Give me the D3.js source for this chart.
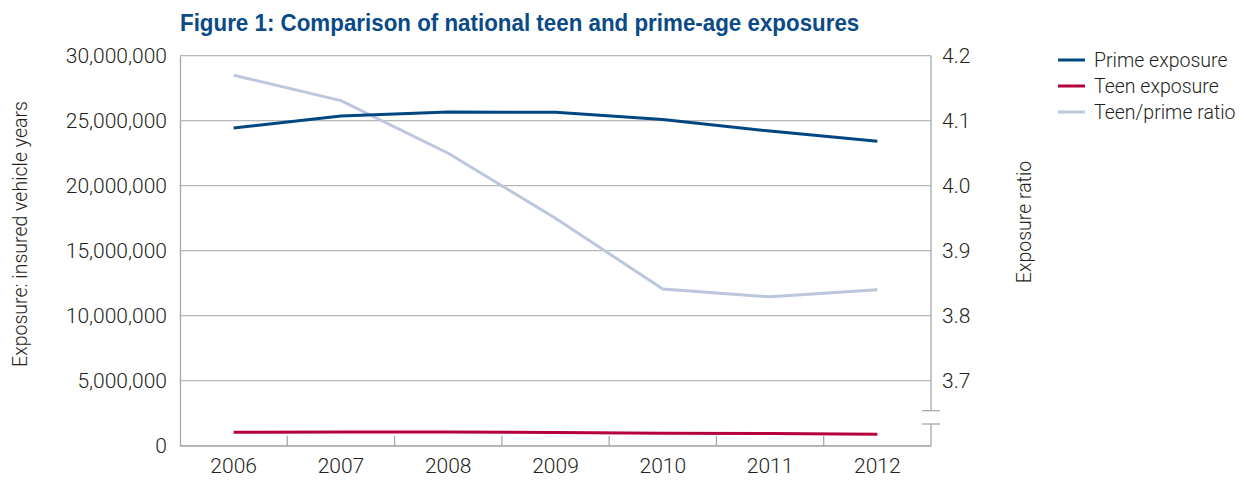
<!DOCTYPE html>
<html>
<head>
<meta charset="utf-8">
<script src="https://cdn.jsdelivr.net/npm/d3@7"></script>
<style>
  html, body { margin: 0; padding: 0; background: #fff; }
  svg { display: block; }
  text { font-family: Roboto, "Liberation Sans", sans-serif; font-weight: 300; fill: #231f20; }
</style>
</head>
<body>
<svg id="chart" width="1244" height="483"></svg>
<script>
// Annual exposures, 2006-2012
const years = ["2006", "2007", "2008", "2009", "2010", "2011", "2012"];
const primeExposure = [24440000, 25360000, 25670000, 25650000, 25100000, 24200000, 23420000];
const teenExposure  = [1030000, 1060000, 1050000, 1010000, 960000, 930000, 890000];
const teenPrimeRatio = [4.170, 4.131, 4.050, 3.950, 3.841, 3.829, 3.840];

const leftTicks  = [0, 5000000, 10000000, 15000000, 20000000, 25000000, 30000000];
const rightTicks = [3.7, 3.8, 3.9, 4.0, 4.1, 4.2];

const seriesNames  = ["Prime exposure", "Teen exposure", "Teen/prime ratio"];
const seriesColors = ["#004680", "#b5003c", "#bcc7de"];

const svg = d3.select("#chart");
const m = { left: 180, right: 931, top: 55.7, bottom: 445.7 };

const x = d3.scaleBand().domain(years).range([m.left, m.right]).padding(0);
const yL = d3.scaleLinear().domain([0, 30000000]).range([m.bottom, m.top]);
// ratio axis starts at 3.6 (shown with a break below 3.7)
const yR = d3.scaleLinear().domain([3.6, 4.2]).range([m.bottom, m.top]);

const cx = d => x(d) + x.bandwidth() / 2;
const labelFont = "21px";

// Title (bold, horizontally condensed)
svg.append("text")
  .attr("transform", "translate(180,31) scale(0.913,1)")
  .style("font-family", "'Liberation Sans', sans-serif")
  .style("font-size", "24.5px").style("font-weight", "bold")
  .style("fill", "#0a4a86")
  .text("Figure 1: Comparison of national teen and prime-age exposures");

// Horizontal gridlines
svg.append("g").selectAll("line").data(leftTicks).join("line")
  .attr("x1", m.left).attr("x2", m.right)
  .attr("y1", d => yL(d)).attr("y2", d => yL(d))
  .attr("stroke", "#b8b8b8").attr("stroke-width", 1.3);

// Left axis labels
const fmt = d3.format(",");
const leftAxis = d3.axisLeft(yL).tickValues(leftTicks).tickSize(0).tickPadding(13).tickFormat(fmt);
const gL = svg.append("g").attr("transform", `translate(${m.left},0)`).call(leftAxis);
gL.select(".domain").attr("stroke", "#a8a8a8").attr("stroke-width", 1.3);
gL.selectAll("text").style("font-size", labelFont).style("fill", "#231f20")
  .style("font-family", "Roboto, sans-serif").style("font-weight", 300);

// Right axis labels
const rightAxis = d3.axisRight(yR).tickValues(rightTicks).tickSize(0).tickPadding(11).tickFormat(d3.format(".1f"));
const gR = svg.append("g").attr("transform", `translate(${m.right},0)`).call(rightAxis);
gR.select(".domain").remove();
gR.selectAll("text").style("font-size", labelFont).style("fill", "#231f20")
  .style("font-family", "Roboto, sans-serif").style("font-weight", 300);

// Right axis line with break marks
const breakTop = 410.7, breakBot = 424;
const axisGray = "#a8a8a8";
svg.append("line").attr("x1", m.right).attr("x2", m.right).attr("y1", m.top).attr("y2", breakTop)
  .attr("stroke", axisGray).attr("stroke-width", 1.3);
svg.append("line").attr("x1", m.right).attr("x2", m.right).attr("y1", breakBot).attr("y2", m.bottom)
  .attr("stroke", axisGray).attr("stroke-width", 1.3);
[breakTop, breakBot].forEach(yy => {
  svg.append("line").attr("x1", m.right - 9).attr("x2", m.right + 9).attr("y1", yy).attr("y2", yy)
    .attr("stroke", axisGray).attr("stroke-width", 1.3);
});

// Bottom axis: baseline plus inward ticks between categories
const gX = svg.append("g").attr("transform", `translate(0,${m.bottom})`)
  .call(d3.axisBottom(x).tickSize(0).tickPadding(12));
gX.select(".domain").attr("stroke", axisGray).attr("stroke-width", 1.3);
gX.selectAll("text").style("font-size", labelFont).style("fill", "#231f20")
  .style("font-family", "Roboto, sans-serif").style("font-weight", 300);
svg.append("g").selectAll("line").data(years.slice(1)).join("line")
  .attr("x1", d => x(d)).attr("x2", d => x(d))
  .attr("y1", m.bottom - 10).attr("y2", m.bottom)
  .attr("stroke", axisGray).attr("stroke-width", 1.3);

// Axis titles
svg.append("text")
  .attr("transform", `translate(27,${234}) rotate(-90)`)
  .attr("text-anchor", "middle")
  .style("font-size", "19.5px")
  .text("Exposure: insured vehicle years");
svg.append("text")
  .attr("transform", `translate(1031,${222}) rotate(-90)`)
  .attr("text-anchor", "middle")
  .style("font-size", "19.5px")
  .text("Exposure ratio");

// Series lines
const lineL = d3.line().x((d, i) => cx(years[i])).y(d => yL(d));
const lineR = d3.line().x((d, i) => cx(years[i])).y(d => yR(d));

svg.append("path").datum(teenPrimeRatio).attr("d", lineR)
  .attr("fill", "none").attr("stroke", seriesColors[2]).attr("stroke-width", 3);
svg.append("path").datum(primeExposure).attr("d", lineL)
  .attr("fill", "none").attr("stroke", seriesColors[0]).attr("stroke-width", 3);
svg.append("path").datum(teenExposure).attr("d", lineL)
  .attr("fill", "none").attr("stroke", seriesColors[1]).attr("stroke-width", 3);

// Legend
const legend = svg.append("g");
seriesNames.forEach((name, i) => {
  const yy = 60 + i * 26;
  legend.append("line").attr("x1", 1058).attr("x2", 1085).attr("y1", yy).attr("y2", yy)
    .attr("stroke", seriesColors[i]).attr("stroke-width", 3);
  legend.append("text").attr("x", 1094).attr("y", yy).attr("dy", "0.35em")
    .style("font-size", "19.5px").text(name);
});
</script>
</body>
</html>
